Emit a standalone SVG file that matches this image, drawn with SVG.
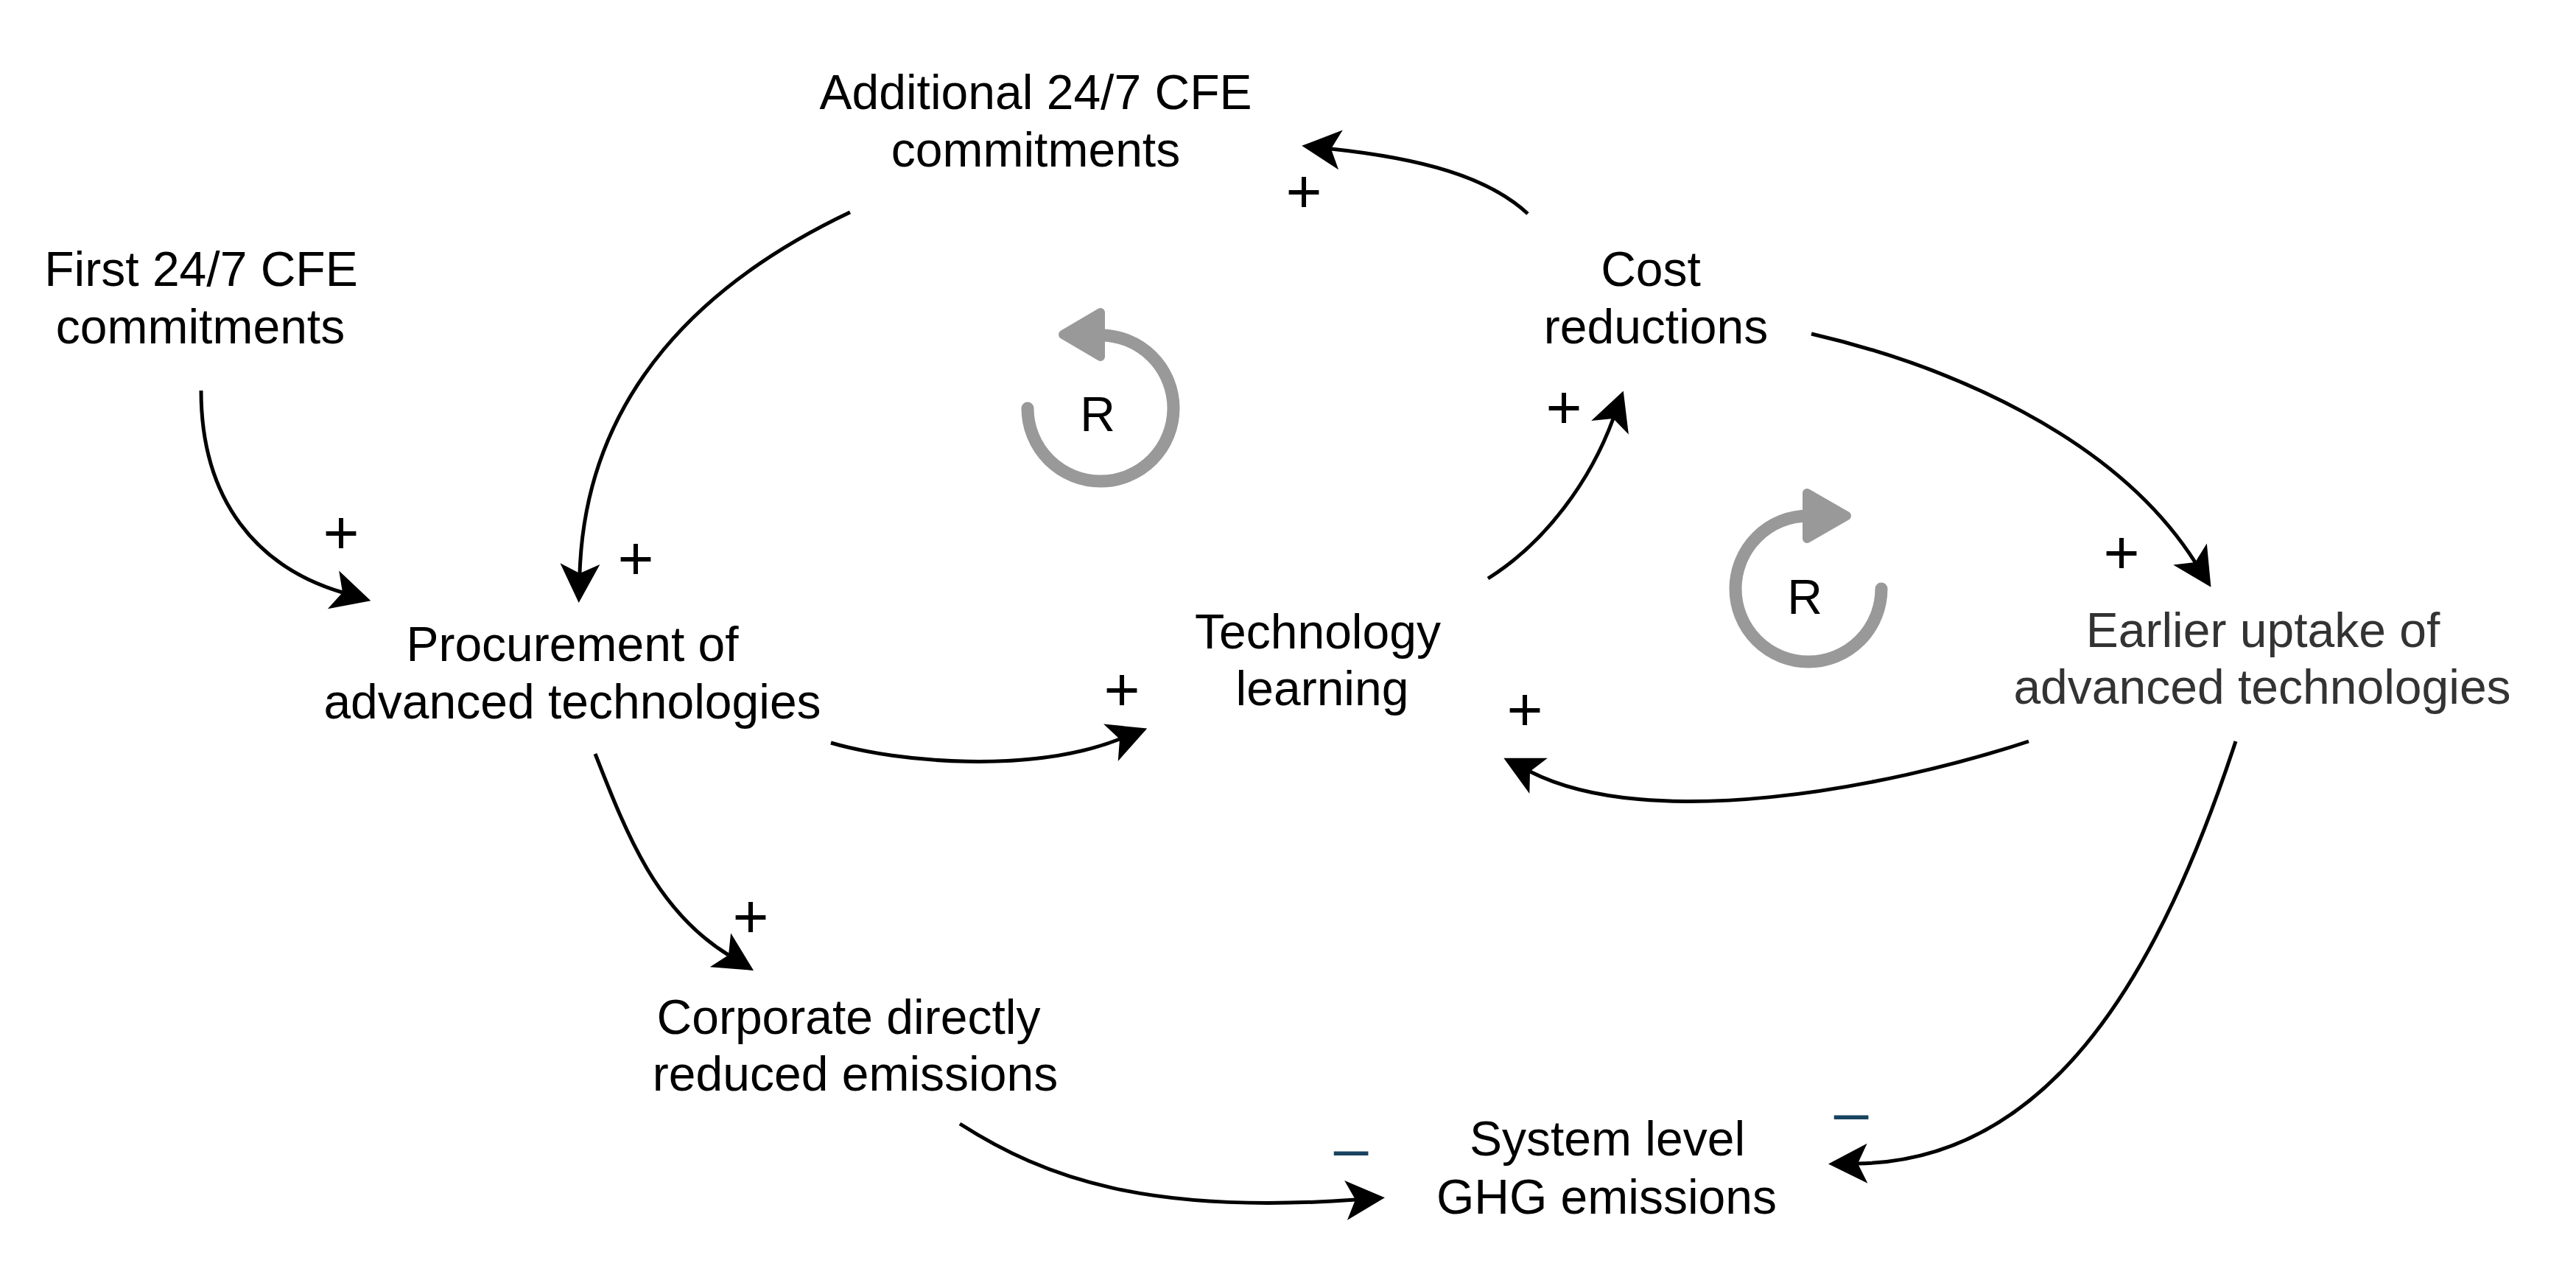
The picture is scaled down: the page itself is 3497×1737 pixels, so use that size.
<svg xmlns="http://www.w3.org/2000/svg" width="3497" height="1737" viewBox="0 0 3497 1737">
<style>
.lbl{font-family:"Liberation Sans",Arial,sans-serif;font-size:66px;fill:#000;text-anchor:middle}
.gray{fill:#333333}
.pol{font-family:"Liberation Sans",Arial,sans-serif;font-size:84px;fill:#000;text-anchor:middle}
.neg{fill:#17435f}
.edge{fill:none;stroke:#000;stroke-width:5;marker-end:url(#arr)}
.ring{fill:none;stroke:#999999;stroke-width:17;stroke-linecap:round}
.ringhead{fill:#999999;stroke:#999999;stroke-width:12;stroke-linejoin:round}
</style>
<defs>
<marker id="arr" markerUnits="userSpaceOnUse" markerWidth="60" markerHeight="60" refX="0" refY="0" orient="auto" style="overflow:visible">
<path d="M40,0 L-13,-27 L0,0 L-13,27 Z" fill="#000"/>
</marker>
</defs>
<rect width="3497" height="1737" fill="#ffffff"/>

<g id="connectors">
<path class="edge" d="M273,530 C273,680 350,770 465,804"/>
<path class="edge" d="M1154,288 C960,380 795,530 787,778"/>
<path class="edge" d="M2074,290 C2020,240 1930,215 1807,202"/>
<path class="edge" d="M2020,785 C2100,735 2160,650 2190,568"/>
<path class="edge" d="M1128,1008 C1220,1035 1400,1050 1520,1003"/>
<path class="edge" d="M808,1023 C850,1130 890,1235 989,1296"/>
<path class="edge" d="M1303,1525 C1420,1600 1560,1648 1840,1628"/>
<path class="edge" d="M2459,453 C2640,495 2870,590 2980,763"/>
<path class="edge" d="M2754,1006 C2560,1070 2240,1130 2077,1047"/>
<path class="edge" d="M3035,1006 C2935,1310 2790,1575 2522,1579"/>
<text class="pol" x="463" y="751">+</text>
<text class="pol" x="863" y="786">+</text>
<text class="pol" x="1770" y="288">+</text>
<text class="pol" x="2123" y="581">+</text>
<text class="pol" x="1523" y="964">+</text>
<text class="pol" x="1019" y="1272">+</text>
<text class="pol" x="2880" y="778">+</text>
<text class="pol" x="2070" y="991">+</text>
<text class="pol neg" x="1834" y="1586">–</text>
<text class="pol neg" x="2513" y="1537">–</text>
</g>

<g id="loop-left">
<path class="ring" d="M1395,554 A99,99 0 1 0 1494,455"/>
<polygon class="ringhead" points="1494,424 1494,484 1443,454"/>
<text class="lbl" x="1490" y="585">R</text>
</g>
<g id="loop-right">
<path class="ring" d="M2554,799 A99,99 0 1 1 2455,700"/>
<polygon class="ringhead" points="2453,669 2453,731 2507,700"/>
<text class="lbl" x="2450" y="833">R</text>
</g>

<g id="node-additional">
<text class="lbl" x="1406" y="148">Additional 24/7 CFE</text>
<text class="lbl" x="1406" y="226">commitments</text>
</g>
<g id="node-first">
<text class="lbl" x="273" y="388">First 24/7 CFE</text>
<text class="lbl" x="272" y="466">commitments</text>
</g>
<g id="node-cost">
<text class="lbl" x="2241" y="388">Cost</text>
<text class="lbl" x="2248" y="466">reductions</text>
</g>
<g id="node-procurement">
<text class="lbl" x="777" y="897">Procurement of</text>
<text class="lbl" x="777" y="975">advanced technologies</text>
</g>
<g id="node-technology">
<text class="lbl" x="1789" y="880">Technology</text>
<text class="lbl" x="1795" y="957">learning</text>
</g>
<g id="node-earlier">
<text class="lbl gray" x="3072" y="878">Earlier uptake of</text>
<text class="lbl gray" x="3071" y="955">advanced technologies</text>
</g>
<g id="node-corporate">
<text class="lbl" x="1152" y="1403">Corporate directly</text>
<text class="lbl" x="1161" y="1480">reduced emissions</text>
</g>
<g id="node-system">
<text class="lbl" x="2182" y="1568">System level</text>
<text class="lbl" x="2181" y="1647">GHG emissions</text>
</g>
</svg>
